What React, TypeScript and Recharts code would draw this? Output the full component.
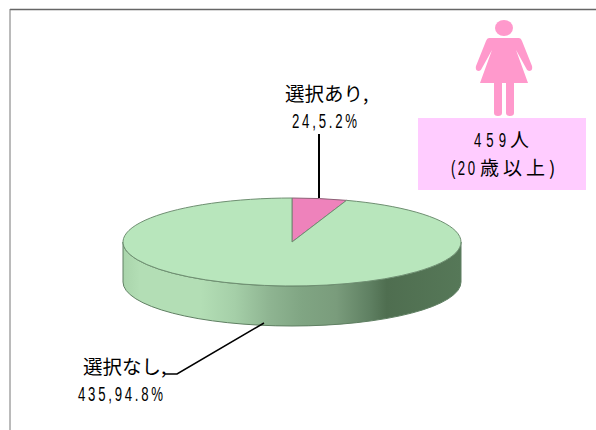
import { PieChart, Pie, Cell } from 'recharts';

// ─── data ─────────────────────────────────────────────────────────────────────

const CATEGORIES = ['選択あり', '選択なし'];
const COUNTS = [24, 435];
const PERCENTS = ['5.2', '94.8'];
const SLICE_COLORS = ['#ee82bb', '#b8e6bc'];
const BOX_LINES = ['459', '人', '(20', '歳以上)'];

const chartData = CATEGORIES.map((name, i) => ({ name, value: COUNTS[i], percentText: PERCENTS[i] }));

// ─── pie geometry ─────────────────────────────────────────────────────────────

const CX = 292;
const CY = 242;
const RX = 169;
const RY = 44;
const DEPTH = 40;

const LATIN = '"Liberation Sans", sans-serif';
const CJK = '"Noto Sans CJK JP", sans-serif';
const SQUEEZE = 0.66;

function pt(cx: number, cy: number, rx: number, deg: number) {
  const a = (deg * Math.PI) / 180;
  return [cx + rx * Math.cos(a), cy - (rx * RY / RX) * Math.sin(a)];
}

// The digits in the picture are condensed and widely spaced
function NarrowText({ x, y, width, children }: any) {
  return (
    <text
      transform={`translate(${x},${y}) scale(${SQUEEZE},1)`}
      textLength={width / SQUEEZE}
      lengthAdjust="spacing"
      fontSize={20}
      fontFamily={LATIN}
      fill="#000"
    >
      {children}
    </text>
  );
}

// Draws a recharts sector as a squashed slice, with a wall for the front part
function TiltedSector(props: any) {
  const { cx, cy, outerRadius: r, startAngle, endAngle, fill } = props;
  const ry = (r * RY) / RX;
  const hi = Math.max(startAngle, endAngle);
  const lo = Math.min(startAngle, endAngle);
  const [sx, sy] = pt(cx, cy, r, hi);
  const [ex, ey] = pt(cx, cy, r, lo);
  const large = hi - lo > 180 ? 1 : 0;
  const top = `M${cx},${cy} L${sx},${sy} A${r},${ry} 0 ${large} 1 ${ex},${ey} Z`;

  // the wall only shows between 0 and -180 degrees
  const wallHi = Math.min(hi, 0);
  const wallLo = Math.max(lo, -180);
  let wall = null;
  if (wallHi > wallLo) {
    const [ax, ay] = pt(cx, cy, r, wallHi);
    const [bx, by] = pt(cx, cy, r, wallLo);
    wall = (
      <path
        d={`M${ax},${ay} A${r},${ry} 0 0 1 ${bx},${by} L${bx},${by + DEPTH} A${r},${ry} 0 0 0 ${ax},${ay + DEPTH} Z`}
        fill="url(#wallGrad)"
        stroke="#5f7f62"
        strokeWidth={1}
      />
    );
  }
  return (
    <g>
      {wall}
      <path d={top} fill={fill} stroke={fill === SLICE_COLORS[0] ? '#8d6076' : '#6f8f72'} strokeWidth={1} />
    </g>
  );
}

// Label blocks with their leader lines, one per slice
function SliceLabel(props: any) {
  const { index } = props;
  const row = chartData[index];
  const countText = `${row.value},${row.percentText}%`;
  if (index === 0) {
    return (
      <g>
        <polyline points="319,134 319,198" fill="none" stroke="#000" strokeWidth={2} />
        <text x={285} y={101} fontSize={19.5} fontFamily={CJK} fill="#000">{row.name},</text>
        <NarrowText x={292} y={128} width={65}>{countText}</NarrowText>
      </g>
    );
  }
  return (
    <g>
      <polyline points="165,374 177,374 264,323" fill="none" stroke="#000" strokeWidth={1.5} />
      <text x={83} y={374} fontSize={19.5} fontFamily={CJK} fill="#000">{row.name},</text>
      <NarrowText x={78} y={401} width={85}>{countText}</NarrowText>
    </g>
  );
}

export default function App() {
  return (
    <div style={{ position: 'absolute', left: 0, top: 0, width: 596, height: 430, background: '#fff' }}>
      <PieChart width={596} height={430} margin={{ top: 0, right: 0, bottom: 0, left: 0 }}>
        <defs>
          <linearGradient id="wallGrad" x1="0" y1="0" x2="1" y2="0">
            <stop offset="0%" stopColor="#a9d4ab" />
            <stop offset="5%" stopColor="#b3deb5" />
            <stop offset="23%" stopColor="#b3deb5" />
            <stop offset="33%" stopColor="#a5cfa8" />
            <stop offset="43%" stopColor="#8fb592" />
            <stop offset="53%" stopColor="#80a583" />
            <stop offset="63%" stopColor="#7a9c7c" />
            <stop offset="73%" stopColor="#5f8062" />
            <stop offset="78%" stopColor="#4f6e50" />
            <stop offset="100%" stopColor="#567858" />
          </linearGradient>
        </defs>

        {/* chart frame, open on the right and bottom */}
        <line x1={10} y1={9.5} x2={596} y2={9.5} stroke="#666" strokeWidth={1.5} />
        <line x1={10} y1={9} x2={10} y2={430} stroke="#777" strokeWidth={1} />

        <Pie
          data={chartData}
          dataKey="value"
          nameKey="name"
          cx={CX}
          cy={CY}
          outerRadius={RX}
          startAngle={90}
          endAngle={-270}
          shape={TiltedSector}
          label={SliceLabel}
          labelLine={false}
          isAnimationActive={false}
        >
          {chartData.map((_, i) => (
            <Cell key={i} fill={SLICE_COLORS[i]} />
          ))}
        </Pie>

        {/* figure */}
        <g fill="#ff99cc">
          <ellipse cx={504} cy={28} rx={9} ry={8} />
          <path d="M489,38 L519,38 Q521,38 522,41 L532,66 Q533,71 529,71 Q527,71 526,68 L516,50 L528,83 L514,83 L514,113 Q514,116 510,116 Q506,116 506,113 L506,83 L502,83 L502,113 Q502,116 498,116 Q494,116 494,113 L494,83 L480,83 L492,50 L482,68 Q481,71 479,71 Q475,71 476,66 L486,41 Q487,38 489,38 Z" />
        </g>
        <rect x={418} y={118} width={168} height={72} fill="#ffccff" />
        <NarrowText x={474} y={147} width={32}>{BOX_LINES[0]}</NarrowText>
        <text x={510} y={147} fontSize={19} fontFamily={CJK} fill="#000">{BOX_LINES[1]}</text>
        <NarrowText x={451} y={175} width={24}>{BOX_LINES[2]}</NarrowText>
        <text x={480} y={175} fontSize={19} letterSpacing={4} fontFamily={CJK} fill="#000">{BOX_LINES[3]}</text>
      </PieChart>
    </div>
  );
}
